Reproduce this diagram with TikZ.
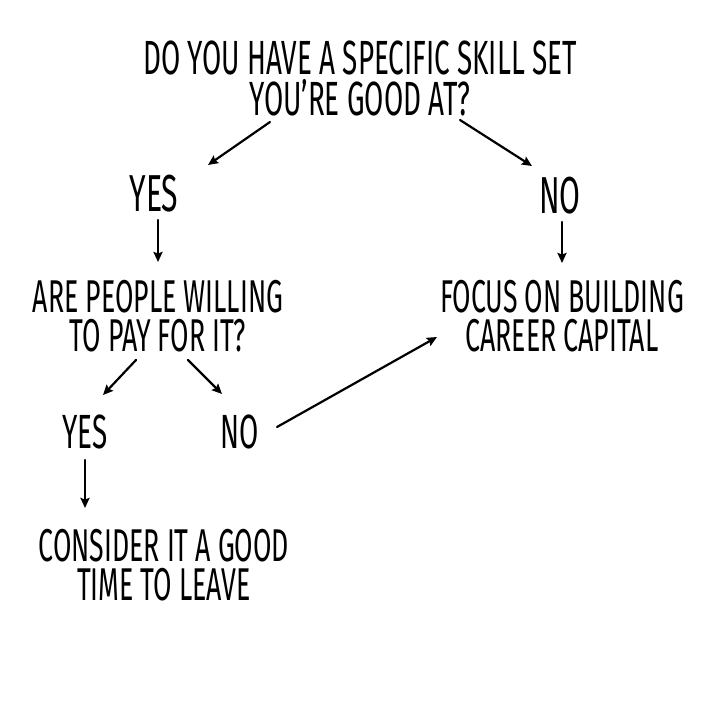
\documentclass[tikz,border=0pt]{standalone}
\usepackage{fontspec}
\newfontfamily\handfont[FakeStretch=0.58]{Fira Sans}
\usetikzlibrary{arrows.meta,calc}
\begin{document}
\begin{tikzpicture}[x=1pt,y=-1pt,>={Stealth[length=10pt,width=9pt,inset=1.5pt]}, line join=round, line cap=round,
  lbl/.style={align=center,inner sep=0pt,font=\handfont\fontsize{46}{39}\selectfont},
  ans/.style={inner sep=0pt,font=\handfont\fontsize{52}{52}\selectfont},
  arr/.style={->,line width=2.2pt}]
\useasboundingbox (0,0) rectangle (720,720);
\node[lbl,font=\handfont\fontsize{48}{41}\selectfont] (q1) at (360,78) {DO YOU HAVE A SPECIFIC SKILL SET\\YOU’RE GOOD AT?};
\node[ans] (y1) at (154,194) {YES};
\node[ans] (n1) at (560,196) {NO};
\node[lbl] (q2) at (158,316) {ARE PEOPLE WILLING\\TO PAY FOR IT?};
\node[lbl] (f1) at (562,316) {FOCUS ON BUILDING\\CAREER CAPITAL};
\node[ans,font=\handfont\fontsize{48}{48}\selectfont] (y2) at (85,432) {YES};
\node[ans,font=\handfont\fontsize{48}{48}\selectfont] (n2) at (240,432) {NO};
\node[lbl] (c1) at (164,565) {CONSIDER IT A GOOD\\TIME TO LEAVE};
% connectors
\draw[arr] ($(q1)+(-90,44)$)--($(y1)+(54,-29)$);
\draw[arr] ($(q1)+(100,42)$)--($(n1)+(-28,-30)$);
\draw[arr] ($(y1)+(4,26)$)--($(q2)+(0,-54)$);
\draw[arr] ($(n1)+(2,26)$)--($(f1)+(0,-53)$);
\draw[arr] ($(q2)+(-22,44)$)--($(y2)+(18,-37)$);
\draw[arr] ($(q2)+(30,44)$)--($(n2)+(-18,-38)$);
\draw[arr] ($(y2)+(0,28)$)--($(c1)+(-79,-57)$);
\draw[arr] ($(n2)+(37,-5)$)--($(f1)+(-125,21)$);
\end{tikzpicture}
\end{document}
